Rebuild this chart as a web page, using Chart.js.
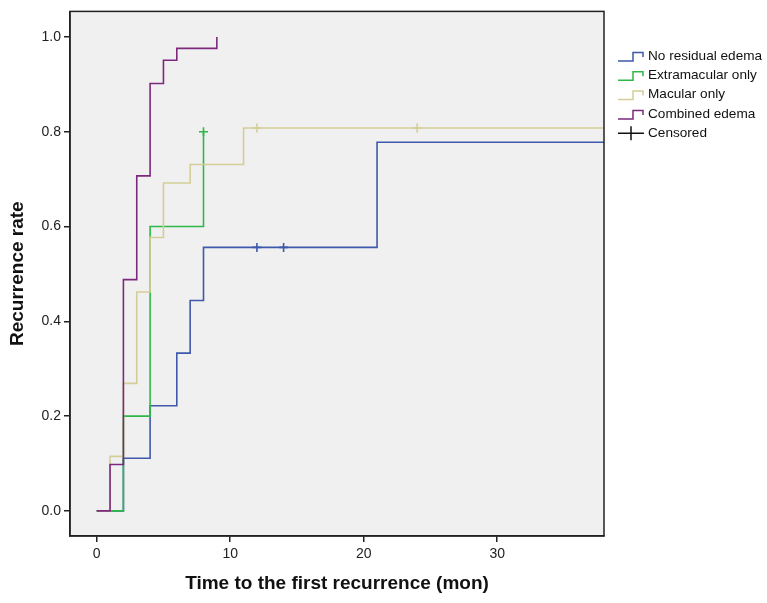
<!DOCTYPE html>
<html>
<head>
<meta charset="utf-8">
<script src="https://cdn.jsdelivr.net/npm/chart.js"></script>
<style>
  html, body { margin: 0; padding: 0; background: #fff; }
  #wrap { width: 767px; height: 603px; }
</style>
</head>
<body>
<div id="wrap"><canvas id="kmChart" width="767" height="603"></canvas></div>
<script>
// group names (legend order)
const groupNames = ["No residual edema", "Extramacular only", "Macular only", "Combined edema"];
const groupColors = ["#3E58AC", "#2EB848", "#D3CE97", "#7C287D"];

// step points: time (mon) and cumulative recurrence rate
const noResidualTimes = [0, 2, 4, 6, 7, 8, 21, 38];
const noResidualRates = [0, 0.111, 0.222, 0.333, 0.444, 0.556, 0.778, 0.778];
const extramacularTimes = [0, 2, 4, 8];
const extramacularRates = [0, 0.2, 0.6, 0.8];
const macularTimes = [0, 1, 2, 3, 4, 5, 7, 11, 38];
const macularRates = [0, 0.115, 0.269, 0.462, 0.577, 0.692, 0.731, 0.808, 0.808];
const combinedTimes = [0, 1, 2, 3, 4, 5, 6, 9];
const combinedRates = [0, 0.098, 0.488, 0.707, 0.902, 0.951, 0.976, 1.0];

// censored observations
const noResidualCensorTimes = [12, 14];
const noResidualCensorRates = [0.556, 0.556];
const extramacularCensorTimes = [8];
const extramacularCensorRates = [0.8];
const macularCensorTimes = [12, 24];
const macularCensorRates = [0.808, 0.808];

const xTicks = [0, 10, 20, 30];
const yTicks = [0, 0.2, 0.4, 0.6, 0.8, 1.0];

function pts(xs, ys) {
    return xs.map((x, i) => ({ x: x, y: ys[i] }));
}

var stepData = [
    pts(noResidualTimes, noResidualRates),
    pts(extramacularTimes, extramacularRates),
    pts(macularTimes, macularRates),
    pts(combinedTimes, combinedRates)
];
var censorData = [
    pts(noResidualCensorTimes, noResidualCensorRates),
    pts(extramacularCensorTimes, extramacularCensorRates),
    pts(macularCensorTimes, macularCensorRates),
    []
];
// purple on top, blue at the bottom
var drawOrder = [3, 2, 1, 0];

var datasets = [];
groupNames.forEach((name, i) => {
    datasets.push({
        type: "line",
        label: name,
        data: stepData[i],
        stepped: "before",
        borderColor: groupColors[i],
        borderWidth: 1.6,
        pointRadius: 0,
        fill: false,
        order: drawOrder[i]
    });
    datasets.push({
        type: "scatter",
        label: name + " censored",
        data: censorData[i],
        pointStyle: "cross",
        pointRadius: 4.5,
        borderColor: groupColors[i],
        borderWidth: 1.6,
        order: drawOrder[i]
    });
});

// grey plot area with a frame
const plotFrame = {
    id: "plotFrame",
    beforeDraw(chart) {
        var ctx = chart.ctx, a = chart.chartArea;
        ctx.save();
        ctx.fillStyle = "#fff";
        ctx.fillRect(0, 0, chart.width, chart.height);
        ctx.fillStyle = "#F0F0F0";
        ctx.fillRect(a.left, a.top, a.right - a.left, a.bottom - a.top);
        ctx.restore();
    },
    afterDraw(chart) {
        var ctx = chart.ctx, a = chart.chartArea;
        ctx.save();
        ctx.strokeStyle = "#222";
        ctx.lineWidth = 1.5;
        ctx.strokeRect(a.left, a.top, a.right - a.left, a.bottom - a.top);
        ctx.restore();
    }
};

// SPSS style legend to the right of the plot
const kmLegend = {
    id: "kmLegend",
    afterDraw(chart) {
        var ctx = chart.ctx;
        var x0 = chart.chartArea.right + 14;
        var y0 = 56, rowH = 19.3;
        ctx.save();
        ctx.font = "13.6px 'Liberation Sans', Arial, sans-serif";
        ctx.textBaseline = "middle";
        ctx.lineWidth = 1.5;
        groupNames.forEach((name, i) => {
            var y = y0 + i * rowH;
            ctx.strokeStyle = groupColors[i];
            ctx.beginPath();
            ctx.moveTo(x0, y + 5);
            ctx.lineTo(x0 + 15, y + 5);
            ctx.lineTo(x0 + 15, y - 3.5);
            ctx.lineTo(x0 + 25, y - 3.5);
            ctx.lineTo(x0 + 25, y + 1);
            ctx.stroke();
            ctx.fillStyle = "#111";
            ctx.fillText(name, x0 + 30, y);
        });
        var yc = y0 + 4 * rowH;
        ctx.strokeStyle = "#111";
        ctx.beginPath();
        ctx.moveTo(x0, yc);
        ctx.lineTo(x0 + 26, yc);
        ctx.moveTo(x0 + 13, yc - 7);
        ctx.lineTo(x0 + 13, yc + 7);
        ctx.stroke();
        ctx.fillStyle = "#111";
        ctx.fillText("Censored", x0 + 30, yc);
        ctx.restore();
    }
};

new Chart("kmChart", {
    data: { datasets: datasets },
    options: {
        responsive: false,
        animation: false,
        layout: { padding: { left: 0, right: 163, top: 9, bottom: 0 } },
        plugins: {
            legend: { display: false },
            tooltip: { enabled: false }
        },
        scales: {
            x: {
                type: "linear",
                min: -2,
                max: 38,
                afterBuildTicks: (scale) => { scale.ticks = xTicks.map(v => ({ value: v })); },
                afterFit: (scale) => { scale.height = 67; },
                grid: { display: true, drawOnChartArea: false, drawTicks: true, tickLength: 6, color: "#222", lineWidth: 1.5 },
                border: { display: true, color: "#222", width: 1.5 },
                ticks: {
                    color: "#222",
                    padding: 4,
                    maxRotation: 0,
                    font: { family: "'Liberation Sans', Arial, sans-serif", size: 14 }
                },
                title: {
                    display: true,
                    text: "Time to the first recurrence (mon)",
                    color: "#111",
                    padding: { top: 0, bottom: 8 },
                    font: { family: "'Liberation Sans', Arial, sans-serif", size: 19, weight: "bold" }
                }
            },
            y: {
                type: "linear",
                min: -0.053,
                max: 1.054,
                afterBuildTicks: (scale) => { scale.ticks = yTicks.map(v => ({ value: v })); },
                afterFit: (scale) => { scale.width = 70; },
                grid: { display: true, drawOnChartArea: false, drawTicks: true, tickLength: 6, color: "#222", lineWidth: 1.5 },
                border: { display: true, color: "#222", width: 1.5 },
                ticks: {
                    color: "#222",
                    padding: 3,
                    callback: (v) => Number(v).toFixed(1),
                    font: { family: "'Liberation Sans', Arial, sans-serif", size: 14 }
                },
                title: {
                    display: true,
                    text: "Recurrence rate",
                    color: "#111",
                    padding: { top: 6, bottom: 0 },
                    font: { family: "'Liberation Sans', Arial, sans-serif", size: 19, weight: "bold" }
                }
            }
        }
    },
    plugins: [plotFrame, kmLegend]
});
</script>
</body>
</html>
